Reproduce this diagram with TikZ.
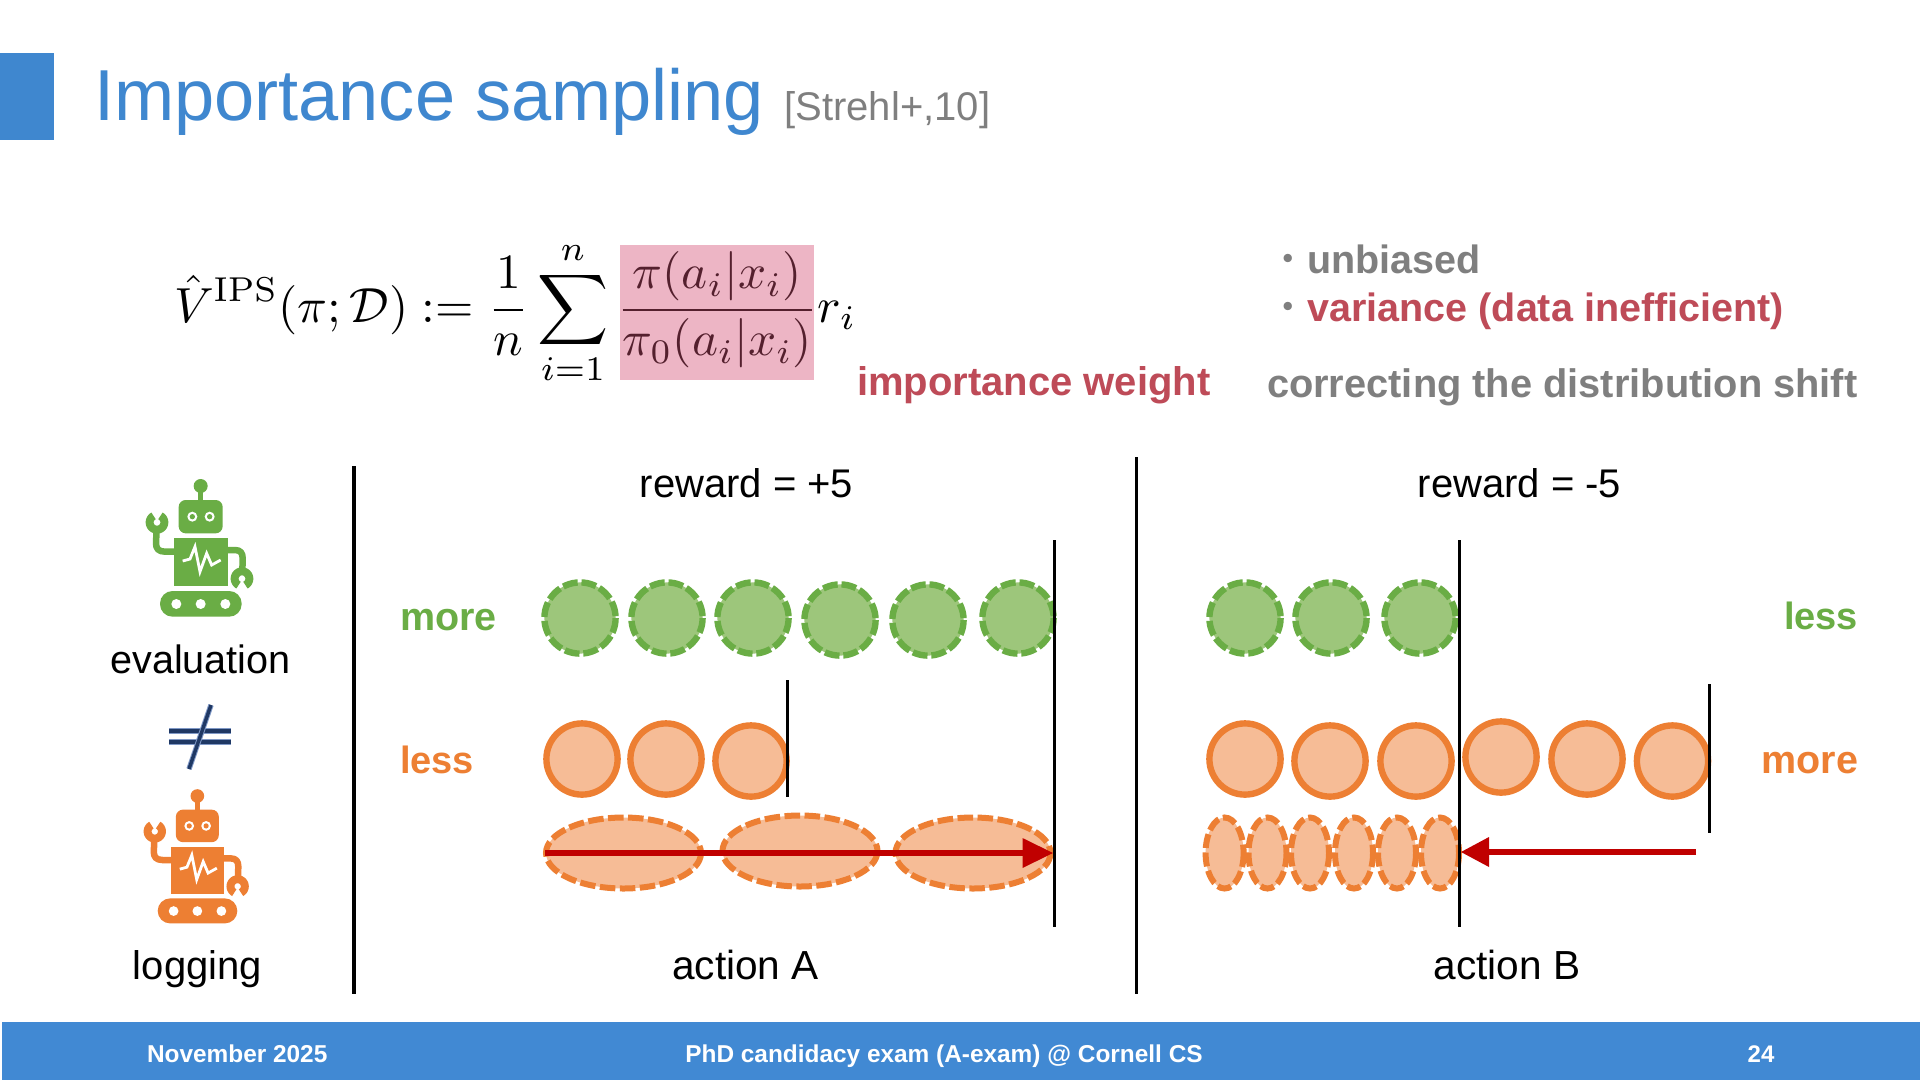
\documentclass[tikz,border=0pt]{standalone}
\usepackage[no-math]{fontspec}
\setmainfont{Liberation Sans}
\newfontfamily\cjkjp{Noto Sans CJK JP}
\definecolor{titleblue}{HTML}{3F87CF}
\definecolor{footblue}{HTML}{4189D3}
\definecolor{greyt}{HTML}{7F7F7F}
\definecolor{redt}{HTML}{BE4B58}
\definecolor{greenS}{HTML}{6AAD45}
\definecolor{greenF}{HTML}{9DC67B}
\definecolor{orangeS}{HTML}{ED7F33}
\definecolor{orangeF}{HTML}{F6BC96}
\definecolor{pinkbox}{HTML}{EDB5C5}
\definecolor{darkpink}{HTML}{54202E}
\definecolor{arrowred}{HTML}{C00000}
\definecolor{navy}{HTML}{1F3864}
\definecolor{navyedge}{HTML}{7F98C6}
\newcommand{\txtsize}[1]{\fontsize{#1}{#1}\selectfont}
\newcommand{\robotdraw}[1]{%
  \fill[#1] (302,108) circle [radius=21];
  \draw[#1,line width=5.5pt] (302,108) -- (302,160);
  \fill[#1,rounded corners=7pt] (236,150) rectangle (368,250);
  \foreach \ex in {277,329}{
    \fill[white] (\ex,200) circle [radius=15];
    \fill[#1] (\ex,200) circle [radius=8];
  }
  \draw[#1,line width=6.5pt,line join=round] (225,305) -- (195,305) .. controls (175,305) and (168,295) .. (168,280) -- (170,235);
  \draw[#1,line width=6.5pt,line join=round] (380,300) -- (405,300) .. controls (422,300) and (428,310) .. (428,325) -- (427,370);
  \draw[#1,line width=8pt] plot[domain=-62:242,samples=30,smooth] ({171+22*cos(\x)},{217+22*sin(\x)});
  \draw[#1,line width=8pt] plot[domain=118:422,samples=30,smooth] ({426+22*cos(\x)},{386+22*sin(\x)});
  \fill[#1] (221,265) rectangle (384,408);
  \draw[white,line width=2.8pt,line join=miter] (248,333) -- (270,327) -- (285,290) -- (300,365) -- (320,310) -- (335,345) -- (362,330);
  \fill[#1,rounded corners=12.5pt] (180,423) rectangle (425,500);
  \foreach \wx in {229,302,376}{\fill[white] (\wx,462) circle [radius=15];}
}
\tikzset{
  txt/.style={inner sep=0pt,outer sep=0pt,text=black},
  solidcirc/.style={draw=orangeS,fill=orangeF,line width=6.4pt},
  greencirc/.style={draw=greenS,fill=greenF,line width=6.4pt,dash pattern=on 15pt off 3.8pt},
  oval/.style={draw=orangeS,fill=orangeF,line width=6pt,dash pattern=on 15.5pt off 4.5pt},
  divider/.style={black,line width=3.5pt},
  limitline/.style={black,line width=3pt},
  redarrow/.style={draw=arrowred,fill=arrowred,line width=6pt},
  ne/.style={draw=navyedge,double=navy,double distance=3.4pt,line width=1pt},
}
\begin{document}
\begin{tikzpicture}[x=1pt,y=-1pt]
\useasboundingbox (0,0) rectangle (1920,1080);
\fill[white] (0,0) rectangle (1920,1080);
% title
\fill[titleblue] (0,53) rectangle (54,140);
\node[txt,anchor=base west,text=titleblue] (title) at (94,120) {\txtsize{72.2}Importance sampling};
\node[txt,anchor=base west,text=greyt] (cite) at (784.5,120) {\txtsize{40}[Strehl+,10]};
% formula
\fill[pinkbox] (620,245) rectangle (814,380);
\node[txt,anchor=west] (formula) at (174,313) {\scalebox{4.93}{$\displaystyle \hat{V}^{\mathrm{IPS}}(\pi;\mathcal{D}) := \frac{1}{n}\sum_{i=1}^{n}{\color{darkpink}\frac{\pi(a_i|x_i)}{\pi_0(a_i|x_i)}}r_i$}};
\node[txt,anchor=west,text=greyt] (b1) at (1268,259) {\txtsize{39.5}{\cjkjp\mdseries ・}\textbf{unbiased}};
\node[txt,anchor=west,text=greyt] (b2) at (1268,311) {\txtsize{39.5}{\cjkjp\mdseries ・}\textbf{\textcolor{redt}{variance (data inefficient)}}};
\node[txt,anchor=west,text=redt] (iw) at (857,385) {\txtsize{40}\textbf{importance weight}};
\node[txt,anchor=west,text=greyt] (cds) at (1267,387) {\txtsize{39.8}\textbf{correcting the distribution shift}};
% dividers
\draw[divider] (354,466) -- (354,994);
\draw[divider] (1136.5,457) -- (1136.5,994);
% headers
\node[txt,anchor=base] (rewA) at (746.5,497) {\txtsize{40}reward = +5};
\node[txt,anchor=base] (rewB) at (1519.5,497) {\txtsize{40}reward = -5};
\node[txt,anchor=base] (actA) at (745.5,979) {\txtsize{40.6}action A};
\node[txt,anchor=base] (actB) at (1507,979) {\txtsize{40.6}action B};
\node[txt,anchor=base] (eval) at (200.5,673) {\txtsize{39.6}evaluation};
\node[txt,anchor=base] (logg) at (197.5,979) {\txtsize{40}logging};
\node[txt,anchor=base west,text=greenS] (moreL) at (400,630) {\txtsize{39.5}\textbf{more}};
\node[txt,anchor=base west,text=orangeS] (lessL) at (400,773) {\txtsize{38}\textbf{less}};
\node[txt,anchor=base east,text=greenS] (lessR) at (1858,629) {\txtsize{38}\textbf{less}};
\node[txt,anchor=base east,text=orangeS] (moreR) at (1858,773) {\txtsize{39.5}\textbf{more}};
% robots
\begin{scope}[shift={(100,450)},x=.33333pt,y=-.33333pt]
\robotdraw{greenS}
\end{scope}
\begin{scope}[shift={(99.2,760.9)},x=.325pt,y=-.325pt]
\robotdraw{orangeS}
\end{scope}
% not equal
\draw[ne] (169,731) -- (231,731);
\draw[ne] (169,742) -- (231,742);
\draw[ne] (211,705) -- (189,769);
% green circles
\foreach \cx/\cy in {580/618,667/618,753/618,840/620,928/620,1018/618,1245/618,1331/618,1420/618}
  \draw[greencirc] (\cx,\cy) circle [radius=35.6];
% orange circles
\foreach \cx/\cy in {582/759,666/759,751/761,1245/759,1330/761,1416/761,1501/757,1587/759,1672.5/761}
  \draw[solidcirc] (\cx,\cy) circle [radius=35.6];
% ovals
\foreach \cx/\cy in {623.5/853,800/851,973/853}
  \draw[oval] (\cx,\cy) ellipse [x radius=77.5,y radius=35.5];
\foreach \cx in {1224.6,1267.5,1310,1354,1397,1440}
  \draw[oval,dash pattern=on 14pt off 4.5pt] (\cx,853) ellipse [x radius=19,y radius=35.5];
% limit lines
\draw[limitline] (787.5,680) -- (787.5,797);
\draw[limitline] (1054.6,540) -- (1054.6,927);
\draw[limitline] (1459.6,540) -- (1459.6,927);
\draw[limitline] (1709,684) -- (1709,833);
% arrows
\coordinate (aS) at (545,853);
\coordinate (aE) at (1022.5,853);
\coordinate (bS) at (1696,852);
\coordinate (bE) at (1489,852);
\draw[redarrow] (aS) -- (aE);
\fill[arrowred] (1053,853) -- (1022.5,838) -- (1022.5,868) -- cycle;
\draw[redarrow] (bS) -- (bE);
\fill[arrowred] (1461,852) -- (1489,837) -- (1489,867) -- cycle;
% footer
\fill[footblue] (2,1022) rectangle (1920,1080);
\node[txt,anchor=base west,text=white] (f1) at (147,1062) {\txtsize{24.4}\textbf{November 2025}};
\node[txt,anchor=base,text=white] (f2) at (944,1062) {\txtsize{24.4}\textbf{PhD candidacy exam (A-exam) @ Cornell CS}};
\node[txt,anchor=base,text=white] (f3) at (1761,1062) {\txtsize{24}\textbf{24}};
\end{tikzpicture}
\end{document}
